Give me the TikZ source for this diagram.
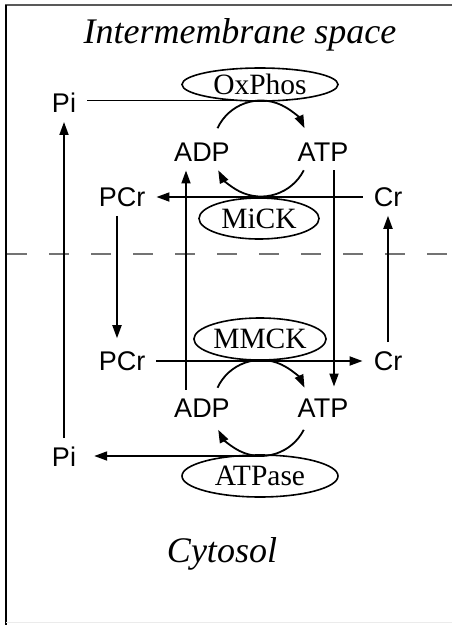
\documentclass[tikz,border=0pt]{standalone}
\usepackage{fontspec}
\setmainfont{Liberation Serif}
\setsansfont{Liberation Sans}
\usetikzlibrary{arrows.meta,shapes.geometric,calc}
\begin{document}
\begin{tikzpicture}[x=1pt,y=-1pt,
  conn/.style={line width=1.8pt},
  arr/.style={conn,-{Triangle[length=13pt,width=9pt]}},
  lbl/.style={font=\sffamily\fontsize{27}{32}\selectfont, inner xsep=11pt, inner ysep=9pt},
  enz/.style={ellipse, draw, line width=1.6pt, inner sep=0pt, font=\fontsize{29.5}{34}\selectfont},
  region/.style={font=\itshape\fontsize{36}{42}\selectfont, inner sep=0pt, anchor=base},
  membrane/.style={line width=1.4pt, black!55, dash pattern=on 20pt off 22pt},
  frame/.style={line width=1.5pt}]
\useasboundingbox (0,0) rectangle (452,625);
% frame
\draw[frame, black!65] (5,5) -- (452,5);
\draw[frame] (6,5) -- (6,625);
\draw[line width=1pt, black!8] (6,622) -- (452,622);
% membrane
\draw[membrane] (7,254) -- (452,254);
% regions
\node[region] (ims) at (240,43) {Intermembrane space};
\node[region] (cyt) at (222,562) {Cytosol};
% enzymes
\node[enz, minimum width=156pt, minimum height=33pt] (oxphos) at (260,84.5) {OxPhos};
\node[enz, minimum width=120pt, minimum height=41pt] (mick) at (259,218.5) {MiCK};
\node[enz, minimum width=122pt, minimum height=42pt] (mmck) at (260,339) {MMCK};
\node[enz, minimum width=156pt, minimum height=42pt] (atpase) at (260,476) {ATPase};
% metabolites
\node[lbl] (piT) at (64,103) {Pi};
\node[lbl] (adpT) at (202,152) {ADP};
\node[lbl] (atpT) at (323,152) {ATP};
\node[lbl] (pcrT) at (122,197) {PCr};
\node[lbl] (crT) at (388,197) {Cr};
\node[lbl] (pcrB) at (122,361) {PCr};
\node[lbl] (crB) at (388,361) {Cr};
\node[lbl] (adpB) at (202,408) {ADP};
\node[lbl] (atpB) at (323,408) {ATP};
\node[lbl] (piB) at (64,457) {Pi};
% circle centres and tangent points
\coordinate (c1) at (261,148.5);
\coordinate (c2) at (261,408);
\coordinate (t1) at (261,100.5);
\coordinate (b2) at (261,456);
% connectors
\draw[conn] (piT.east |- t1) -- (t1);
\draw[arr] ($(c1)+(155:48pt)$) arc[start angle=155,end angle=25,radius=48pt];
\draw[arr] ($(c1)+(-27:48pt)$) arc[start angle=-27,end angle=-153,radius=48pt];
\draw[arr] ($(c2)+(155:48pt)$) arc[start angle=155,end angle=25,radius=48pt];
\draw[arr] ($(c2)+(-27:48pt)$) arc[start angle=-27,end angle=-153,radius=48pt];
\draw[arr] (b2) -- ([xshift=7pt]piB.east |- b2);
\draw[arr] (piB.north) -- (piT.south);
\draw[arr] ([xshift=-5pt]pcrT.south) -- ([xshift=-5pt,yshift=4pt]pcrB.north);
\draw[arr] (crB.north) -- (crT.south);
\draw[arr] ([xshift=-16pt]adpB.north) -- ([xshift=-16pt]adpT.south);
\draw[arr] ([xshift=11pt]atpT.south) -- ([xshift=11pt,yshift=3pt]atpB.north);
\draw[arr] (crT.west) -- (pcrT.east);
\draw[arr] (pcrB.east) -- (crB.west);
\end{tikzpicture}
\end{document}
